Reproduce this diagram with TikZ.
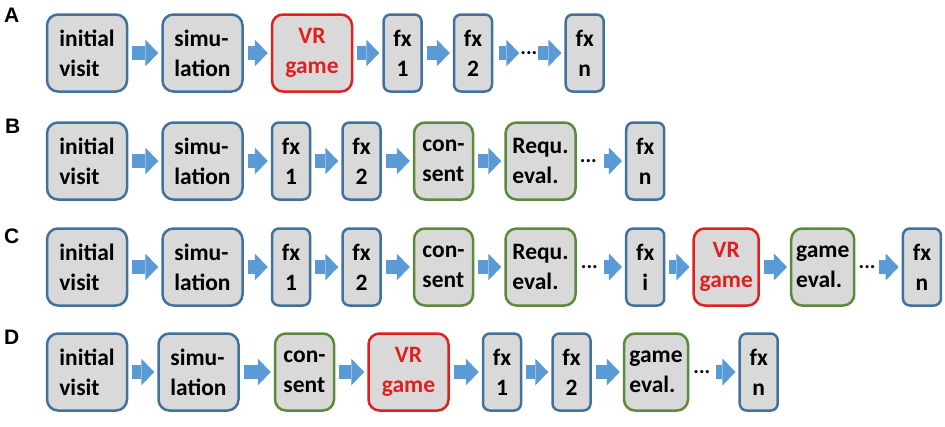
\documentclass[tikz,border=0pt]{standalone}
\usepackage{fontspec}
\setmainfont{Carlito}
\newfontfamily\panelfont{Liberation Sans}
\usetikzlibrary{arrows.meta,positioning}
\definecolor{boxgray}{HTML}{D9D9D9}
\definecolor{visitblue}{HTML}{41719C}
\definecolor{vrred}{HTML}{E0201F}
\definecolor{studygreen}{HTML}{5A8A3A}
\definecolor{flowblue}{HTML}{5B9BD5}
\begin{document}
\begin{tikzpicture}[x=1pt, y=-1pt,
  every node/.style={font=\bfseries\fontsize{23.5}{30}\selectfont, inner sep=3pt},
  visitbox/.style={draw=visitblue, fill=boxgray, line width=2.5pt, rounded corners=11pt, minimum height=77pt, minimum width=80pt, align=left},
  fxbox/.style={visitbox, rounded corners=7pt, minimum width=38pt, align=center},
  vrbox/.style={visitbox, draw=vrred, text=vrred, align=center},
  studybox/.style={visitbox, draw=studygreen},
  dots/.style={font=\bfseries\fontsize{21}{22}\selectfont, inner sep=1pt},
  panel/.style={font=\panelfont\bfseries\fontsize{21}{22}\selectfont, inner sep=0pt, anchor=north west},
  flow/.style={draw=flowblue, line width=14pt, -{Triangle[length=13pt,width=27pt,line width=0pt]}, shorten <=4pt, shorten >=3pt}]
\path[use as bounding box] (0,0) rectangle (945,426);
% row A
\node[panel] (la) at (4,8) {A};
\node[visitbox] (a1) at (87,53) {initial\\visit};
\node[visitbox, right=33pt of a1] (a2) {simu-\\lation};
\node[vrbox, right=27pt of a2] (a3) {VR\\game};
\node[fxbox, right=29pt of a3] (a4) {fx\\1};
\node[fxbox, right=30pt of a4] (a5) {fx\\2};
\node[dots, right=26pt of a5] (a6) {...};
\node[fxbox, right=26pt of a6] (a7) {fx\\n};
\draw[flow] (a1) -- (a2);
\draw[flow] (a2) -- (a3);
\draw[flow] (a3) -- (a4);
\draw[flow] (a4) -- (a5);
\draw[flow, shorten <=6pt, shorten >=0pt] (a5) -- (a6);
\draw[flow, shorten <=0pt] (a6) -- (a7);
% row B
\node[panel] (lb) at (5,119) {B};
\node[visitbox] (b1) at (87,161) {initial\\visit};
\node[visitbox, right=33pt of b1] (b2) {simu-\\lation};
\node[fxbox, right=27pt of b2] (b3) {fx\\1};
\node[fxbox, right=30pt of b3] (b4) {fx\\2};
\node[studybox, minimum width=59pt, right=31pt of b4] (b5) {con-\\sent};
\node[studybox, minimum width=70pt, right=30pt of b5] (b6) {Requ.\\eval.};
\node[dots, right=2pt of b6] (b7) {...};
\node[fxbox, right=27pt of b7] (b8) {fx\\n};
\draw[flow] (b1) -- (b2);
\draw[flow] (b2) -- (b3);
\draw[flow] (b3) -- (b4);
\draw[flow] (b4) -- (b5);
\draw[flow] (b5) -- (b6);
\draw[flow, shorten <=6pt] (b7) -- (b8);
% row C
\node[panel] (lc) at (4,229) {C};
\node[visitbox] (c1) at (87,267) {initial\\visit};
\node[visitbox, right=33pt of c1] (c2) {simu-\\lation};
\node[fxbox, right=27pt of c2] (c3) {fx\\1};
\node[fxbox, right=30pt of c3] (c4) {fx\\2};
\node[studybox, minimum width=59pt, right=31pt of c4] (c5) {con-\\sent};
\node[studybox, minimum width=70pt, right=30pt of c5] (c6) {Requ.\\eval.};
\node[dots, right=3pt of c6] (c7) {...};
\node[fxbox, right=26pt of c7] (c8) {fx\\i};
\node[vrbox, minimum width=65pt, right=27pt of c8] (c9) {VR\\game};
\node[studybox, minimum width=63pt, right=30pt of c9] (c10) {game\\eval.};
\node[dots, right=2pt of c10] (c11) {...};
\node[fxbox, right=25pt of c11] (c12) {fx\\n};
\draw[flow] (c1) -- (c2);
\draw[flow] (c2) -- (c3);
\draw[flow] (c3) -- (c4);
\draw[flow] (c4) -- (c5);
\draw[flow] (c5) -- (c6);
\draw[flow, shorten <=5pt] (c7) -- (c8);
\draw[flow] (c8) -- (c9);
\draw[flow] (c9) -- (c10);
\draw[flow, shorten <=2pt] (c11) -- (c12);
% row D
\node[panel] (ld) at (4,330) {D};
\node[visitbox] (d1) at (87,372) {initial\\visit};
\node[visitbox, right=29pt of d1] (d2) {simu-\\lation};
\node[studybox, minimum width=59pt, right=34pt of d2] (d3) {con-\\sent};
\node[vrbox, right=32pt of d3] (d4) {VR\\game};
\node[fxbox, right=32pt of d4] (d5) {fx\\1};
\node[fxbox, right=29pt of d5] (d6) {fx\\2};
\node[studybox, minimum width=64pt, right=31pt of d6] (d7) {game\\eval.};
\node[dots, right=3pt of d7] (d8) {...};
\node[fxbox, right=27pt of d8] (d9) {fx\\n};
\draw[flow] (d1) -- (d2);
\draw[flow] (d2) -- (d3);
\draw[flow] (d3) -- (d4);
\draw[flow] (d4) -- (d5);
\draw[flow] (d5) -- (d6);
\draw[flow] (d6) -- (d7);
\draw[flow, shorten <=5pt] (d8) -- (d9);
\end{tikzpicture}
\end{document}
